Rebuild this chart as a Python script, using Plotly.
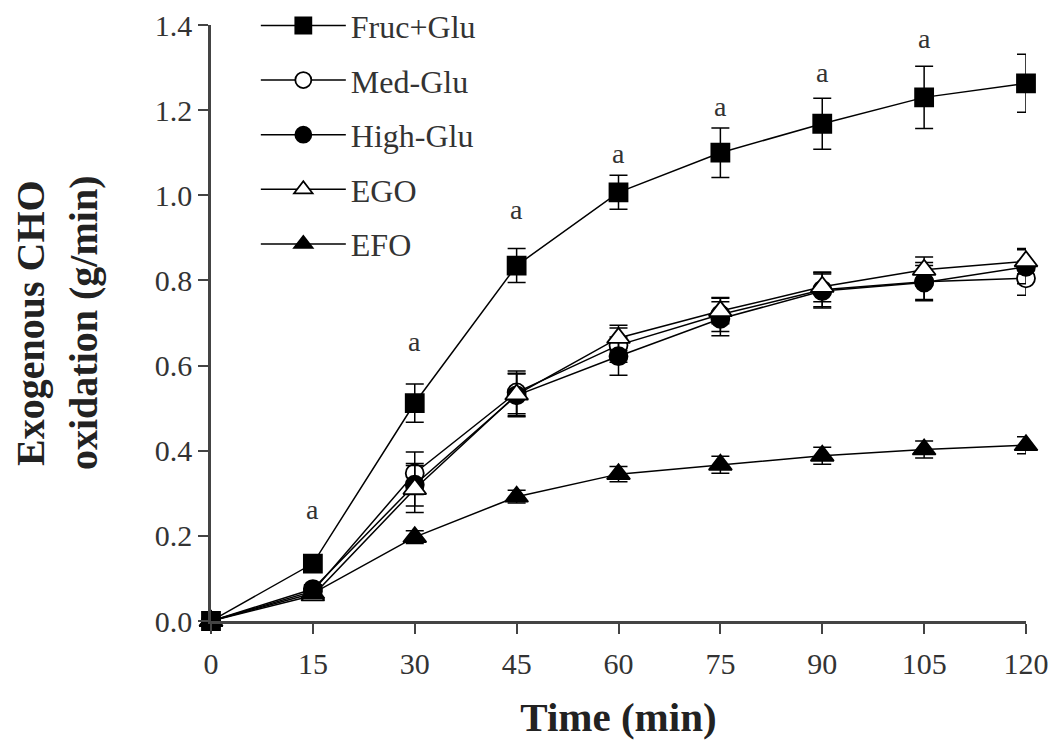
import plotly.graph_objects as go

time = [0, 15, 30, 45, 60, 75, 90, 105, 120]

fruc_glu = [0.0, 0.135, 0.512, 0.835, 1.007, 1.100, 1.168, 1.230, 1.263]
fruc_glu_err = [0, 0.01, 0.045, 0.04, 0.04, 0.058, 0.06, 0.073, 0.068]

med_glu = [0.0, 0.07, 0.347, 0.537, 0.648, 0.72, 0.778, 0.797, 0.805]
med_glu_err = [0, 0.01, 0.05, 0.05, 0.04, 0.04, 0.04, 0.045, 0.04]

high_glu = [0.0, 0.075, 0.32, 0.53, 0.622, 0.71, 0.775, 0.795, 0.832]
high_glu_err = [0, 0.01, 0.05, 0.05, 0.045, 0.04, 0.04, 0.04, 0.04]

ego = [0.0, 0.06, 0.31, 0.532, 0.665, 0.728, 0.785, 0.825, 0.845]
ego_err = [0, 0.01, 0.055, 0.05, 0.03, 0.03, 0.035, 0.03, 0.03]

efo = [0.0, 0.065, 0.197, 0.292, 0.345, 0.367, 0.388, 0.403, 0.413]
efo_err = [0, 0.008, 0.015, 0.015, 0.018, 0.02, 0.02, 0.02, 0.02]

sig_times = [15, 30, 45, 60, 75, 90, 105, 120]
sig_y = [0.262, 0.656, 0.966, 1.098, 1.209, 1.288, 1.368, 1.417]
sig_labels = ["a"] * 8

y_title_lines = ["Exogenous CHO", "oxidation (g/min)"]
x_title = "Time (min)"

FONT = "Liberation Serif"

series = [
    ("Fruc+Glu", fruc_glu, fruc_glu_err, "square", "black", 18),
    ("Med-Glu", med_glu, med_glu_err, "circle", "white", 18),
    ("High-Glu", high_glu, high_glu_err, "circle", "black", 18),
    ("EGO", ego, ego_err, "triangle-up", "white", 20),
    ("EFO", efo, efo_err, "triangle-up", "black", 20),
]

fig = go.Figure()
for i, (name, ys, errs, sym, fill, size) in enumerate(series):
    fig.add_trace(go.Scatter(
        x=time, y=ys, name=name, mode="lines+markers",
        legendgroup=f"g{i}",
        line=dict(color="black", width=1.5),
        marker=dict(symbol=sym, size=size, color=fill,
                    line=dict(color="black", width=1.8)),
        error_y=dict(type="data", array=errs, visible=True,
                     color="black", thickness=1.5, width=9),
        cliponaxis=False,
    ))

for t, yv, lab in zip(sig_times, sig_y, sig_labels):
    fig.add_annotation(x=t, y=yv, text=lab, showarrow=False,
                       font=dict(family=FONT, size=28, color="#333"))

# y-axis title, two lines
for px, line in zip([30, 83], y_title_lines):
    fig.add_annotation(xref="paper", yref="paper",
                       x=(px - 211) / 815, y=0.5,
                       xanchor="center", yanchor="middle",
                       text=f"<b>{line}</b>", textangle=-90, showarrow=False,
                       font=dict(family=FONT, size=40, color="#222"))

fig.update_layout(
    width=1052, height=740,
    margin=dict(l=211, r=26, t=25, b=119, autoexpand=False),
    paper_bgcolor="white", plot_bgcolor="white",
    font=dict(family=FONT, color="#333"),
    showlegend=True,
    legend=dict(
        x=0.055, y=1.045, xanchor="left", yanchor="top",
        font=dict(family=FONT, size=32, color="#333"),
        traceorder="grouped", tracegroupgap=10,
        itemwidth=85, bgcolor="rgba(0,0,0,0)",
    ),
)
fig.update_xaxes(
    range=[0, 120], tickvals=time, ticktext=[str(t) for t in time],
    automargin=False,
    showline=True, linecolor="#444", linewidth=2.5,
    ticks="outside", ticklen=10, tickwidth=2, tickcolor="#444",
    ticklabelstandoff=4,
    tickfont=dict(family=FONT, size=30, color="#333"),
    showgrid=False, zeroline=False,
    title=dict(text=f"<b>{x_title}</b>", font=dict(family=FONT, size=41, color="#222"), standoff=26),
)
fig.update_yaxes(
    range=[0, 1.4], tickvals=[0, 0.2, 0.4, 0.6, 0.8, 1.0, 1.2, 1.4],
    ticktext=["0.0", "0.2", "0.4", "0.6", "0.8", "1.0", "1.2", "1.4"],
    automargin=False,
    showline=True, linecolor="#444", linewidth=2.5,
    ticks="outside", ticklen=10, tickwidth=2, tickcolor="#444",
    tickfont=dict(family=FONT, size=30, color="#333"),
    showgrid=False, zeroline=False,
)

fig.write_html("out.html")
